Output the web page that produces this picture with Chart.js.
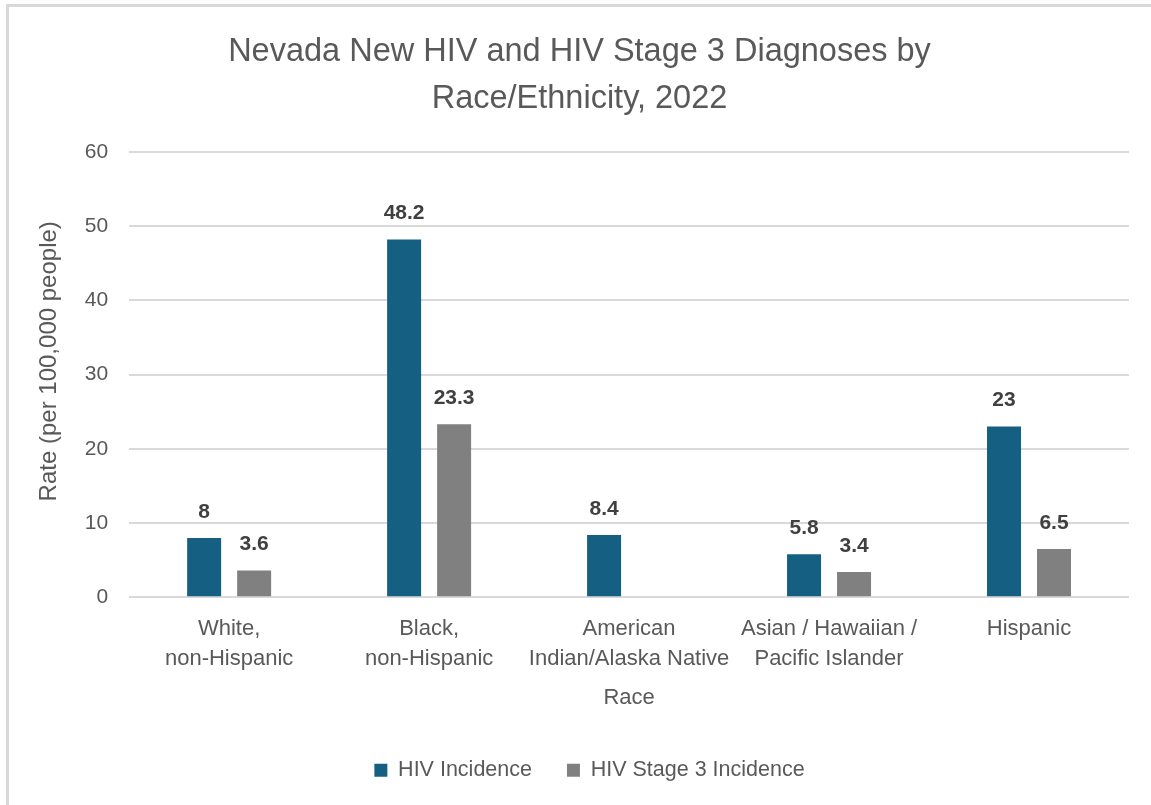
<!DOCTYPE html>
<html>
<head>
<meta charset="utf-8">
<script src="https://cdn.jsdelivr.net/npm/chart.js@4/dist/chart.umd.min.js"></script>
<style>
  html, body { margin: 0; padding: 0; background: #fff; overflow: hidden; width: 1151px; height: 805px; }
  #frame { position: absolute; left: 6px; top: 4px; width: 1145px; height: 801px;
           border-left: 3px solid #d9d9d9; border-top: 3px solid #d9d9d9; box-sizing: border-box; }
  #wrap { position: absolute; left: 0; top: 0; width: 1151px; height: 860px; }
</style>
</head>
<body>
<div id="frame"></div>
<div id="wrap"><canvas id="c" width="1151" height="860"></canvas></div>
<script>
const categories = [
  ["White,", "non-Hispanic"],
  ["Black,", "non-Hispanic"],
  ["American", "Indian/Alaska Native"],
  ["Asian / Hawaiian /", "Pacific Islander"],
  ["Hispanic"]
];
const hivIncidence = [8, 48.2, 8.4, 5.8, 23];
const stage3Incidence = [3.6, 23.3, null, 3.4, 6.5];
const seriesNames = ["HIV Incidence", "HIV Stage 3 Incidence"];
const yTicks = [0, 10, 20, 30, 40, 50, 60];

const barLabels = {
  id: 'barLabels',
  afterDatasetsDraw(chart) {
    const ctx = chart.ctx;
    ctx.save();
    ctx.font = 'bold 21px "Liberation Sans", Arial, sans-serif';
    ctx.fillStyle = '#404040';
    ctx.textAlign = 'center';
    ctx.textBaseline = 'middle';
    chart.data.datasets.forEach((ds, i) => {
      const meta = chart.getDatasetMeta(i);
      meta.data.forEach((bar, j) => {
        const v = ds.data[j];
        if (v === null || v === undefined) return;
        ctx.fillText(String(v), bar.x, bar.y - 26);
      });
    });
    ctx.restore();
  }
};

const legendShift = {
  id: 'legendShift',
  afterLayout(chart) {
    if (chart.legend) { chart.legend.left += 10; chart.legend.right += 10; }
  }
};

new Chart(document.getElementById('c'), {
  type: 'bar',
  data: {
    labels: categories,
    datasets: [
      { label: seriesNames[0], data: hivIncidence, backgroundColor: '#156082',
        categoryPercentage: 0.5, barPercentage: 0.68 },
      { label: seriesNames[1], data: stage3Incidence, backgroundColor: '#808080',
        categoryPercentage: 0.5, barPercentage: 0.68 }
    ]
  },
  options: {
    responsive: false,
    animation: false,
    layout: { padding: { left: 30, right: 22, top: 0, bottom: 69 } },
    plugins: {
      title: {
        display: true,
        text: ["Nevada New HIV and HIV Stage 3 Diagnoses by", "Race/Ethnicity, 2022"],
        color: '#595959',
        font: { family: '"Liberation Sans", Arial, sans-serif', size: 32.5, weight: 'normal', lineHeight: 1.446 },
        padding: { top: 29, bottom: 29 }
      },
      legend: {
        position: 'bottom',
        labels: {
          color: '#595959',
          font: { family: '"Liberation Sans", Arial, sans-serif', size: 21.5 },
          boxWidth: 13, boxHeight: 13, padding: 35
        }
      },
      tooltip: { enabled: false }
    },
    scales: {
      x: {
        grid: { display: false, drawTicks: false },
        border: { display: false },
        ticks: {
          color: '#595959',
          font: { family: '"Liberation Sans", Arial, sans-serif', size: 22, lineHeight: 1.36 },
          padding: 17, maxRotation: 0, autoSkip: false
        },
        title: {
          display: true, text: 'Race', color: '#595959',
          font: { family: '"Liberation Sans", Arial, sans-serif', size: 22, lineHeight: 1.2 },
          padding: { top: -6, bottom: 13 }
        }
      },
      y: {
        min: 0, max: 60,
        afterBuildTicks(scale) { scale.ticks = yTicks.map(v => ({ value: v })); },
        grid: { color: '#d9d9d9', lineWidth: 2, drawTicks: false },
        border: { display: false },
        ticks: {
          color: '#595959',
          font: { family: '"Liberation Sans", Arial, sans-serif', size: 21 },
          padding: 21
        },
        title: {
          display: true, text: '    Rate (per 100,000 people)', color: '#595959',
          font: { family: '"Liberation Sans", Arial, sans-serif', size: 24, lineHeight: 1.2 },
          padding: { top: 5, bottom: 0 }
        }
      }
    }
  },
  plugins: [barLabels, legendShift]
});
</script>
</body>
</html>
